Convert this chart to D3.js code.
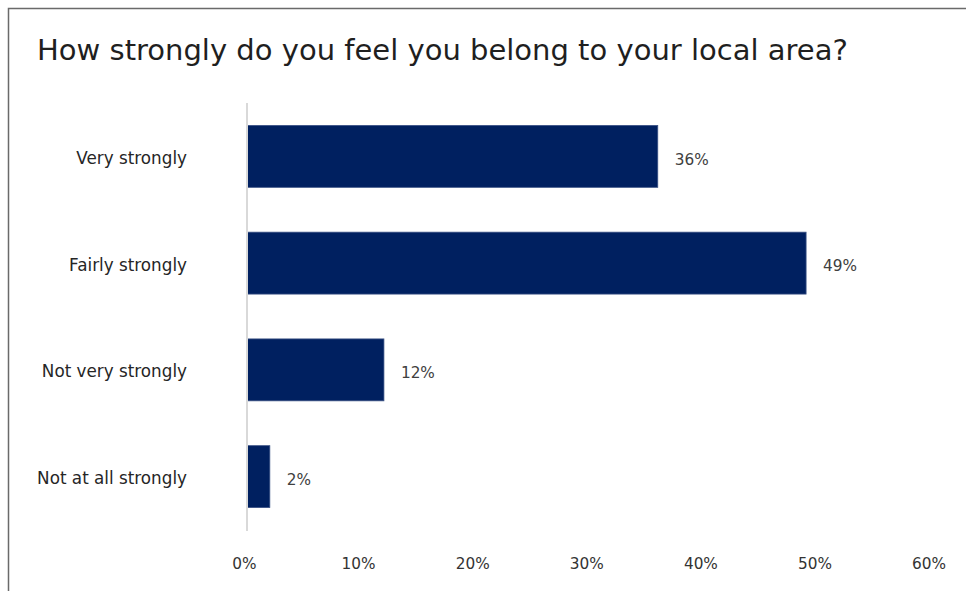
<!DOCTYPE html>
<html>
<head>
<meta charset="utf-8">
<script src="https://cdn.jsdelivr.net/npm/d3@7"></script>
<style>
  html, body { margin: 0; padding: 0; background: #fff; }
  svg { display: block; font-family: "DejaVu Sans", "Liberation Sans", sans-serif; }
</style>
</head>
<body>
<svg id="chart" width="966" height="591"></svg>
<script>
const title = "How strongly do you feel you belong to your local area?";
const categories = ["Very strongly", "Fairly strongly", "Not very strongly", "Not at all strongly"];
const values = [36, 49, 12, 2];
const tickValues = [0, 10, 20, 30, 40, 50, 60];

const svg = d3.select("#chart");
const W = 966, H = 591;

// frame
svg.append("rect")
  .attr("x", 8.5).attr("y", 8.5)
  .attr("width", W + 20).attr("height", H + 20)
  .attr("fill", "none").attr("stroke", "#6a6a6a").attr("stroke-width", 1.5);

// title, fitted to its measured width in the reference
const t = svg.append("text")
  .attr("x", 37).attr("y", 60)
  .attr("fill", "#1f1f1f")
  .style("font-size", "25px")
  .text(title);
const tw = t.node().getComputedTextLength();
t.style("font-size", (25 * 811 / tw).toFixed(2) + "px");

const x = d3.scaleLinear().domain([0, 60]).range([247, 247 + 6 * 114.1]);
const y = d3.scaleBand().domain(categories).range([103, 530]).paddingInner(0.42).paddingOuter(0.21);

// bars
svg.append("g").selectAll("rect")
  .data(categories)
  .join("rect")
  .attr("x", x(0))
  .attr("y", d => y(d))
  .attr("width", (d, i) => x(values[i]) - x(0))
  .attr("height", y.bandwidth())
  .attr("fill", "#002060")
  .attr("stroke", "#3a5285")
  .attr("stroke-width", 0.8);

// vertical axis line
svg.append("line")
  .attr("x1", x(0)).attr("x2", x(0))
  .attr("y1", 103).attr("y2", 531)
  .attr("stroke", "#d9d9d9").attr("stroke-width", 2);

// category labels
const yAxis = d3.axisLeft(y).tickSize(0).tickPadding(0);
const gy = svg.append("g").attr("transform", "translate(187,2)").call(yAxis);
gy.select(".domain").remove();
gy.selectAll("text")
  .attr("fill", "#262626")
  .style("font-size", "16.8px")
  .style("font-family", "DejaVu Sans, sans-serif");

// x tick labels
const xAxis = d3.axisBottom(x).tickValues(tickValues).tickSize(0).tickPadding(0).tickFormat(d => d + "%");
const gx = svg.append("g").attr("transform", "translate(-3,558)").call(xAxis);
gx.select(".domain").remove();
gx.selectAll("text")
  .attr("fill", "#333333")
  .style("font-size", "15.3px")
  .style("font-family", "DejaVu Sans, sans-serif");

// value labels
svg.append("g").selectAll("text")
  .data(categories)
  .join("text")
  .attr("x", (d, i) => x(values[i]) + 17)
  .attr("y", d => y(d) + y.bandwidth() / 2 + 3)
  .attr("dy", "0.35em")
  .attr("fill", "#404040")
  .style("font-size", "15.3px")
  .text((d, i) => values[i] + "%");
</script>
</body>
</html>
